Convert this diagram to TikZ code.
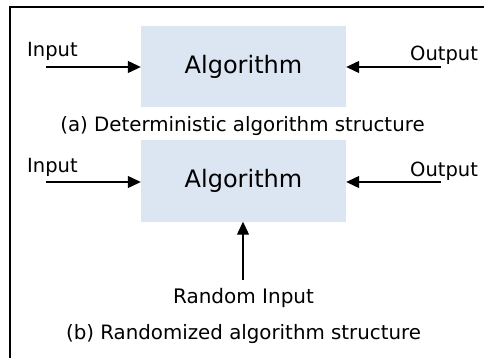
\documentclass[tikz,border=0pt]{standalone}
\usepackage{fontspec}
\setmainfont{DejaVu Sans}
\usetikzlibrary{arrows.meta}
\definecolor{boxblue}{RGB}{220,230,242}
\tikzset{
  x=1pt,y=-1pt,
  algbox/.style={fill=boxblue,minimum width=205pt,minimum height=81pt,inner sep=0pt,font=\fontsize{24}{30}\selectfont},
  lbl/.style={inner sep=0pt,font=\fontsize{19.5}{22}\selectfont},
  captxt/.style={inner sep=0pt,font=\fontsize{19.8}{24}\selectfont},
  arr/.style={-{Triangle[length=13pt,width=12pt]},line width=1.2pt}
}
\begin{document}
\begin{tikzpicture}
\useasboundingbox (0,0) rectangle (484,358);
\begin{scope}
\clip (0,0) rectangle (484,358);
\draw[line width=2.2pt] (10,7) rectangle (500,380);
\end{scope}
\node[algbox] (alg1) at (243.5,66.5) {Algorithm};
\node[algbox] (alg2) at (243.5,181) {Algorithm};
\node[lbl,anchor=base west] (in1) at (27,57) {Input};
\node[lbl,anchor=base west] (out1) at (410,61) {Output};
\node[lbl,anchor=base west] (in2) at (27,172) {Input};
\node[lbl,anchor=base west] (out2) at (410,176) {Output};
\coordinate (in1e) at (46,67);
\coordinate (out1e) at (441,67);
\coordinate (in2e) at (46,182);
\coordinate (out2e) at (441,182);
\coordinate (rnde) at (243,280);
\draw[arr] (in1e) -- (in1e -| alg1.west);
\draw[arr] (out1e) -- (out1e -| alg1.east);
\draw[arr] (in2e) -- (in2e -| alg2.west);
\draw[arr] (out2e) -- (out2e -| alg2.east);
\draw[arr] (rnde) -- (rnde |- alg2.south);
\node[captxt,anchor=base] (capa) at (242.5,132) {(a) Deterministic algorithm structure};
\node[lbl,font=\fontsize{20}{24}\selectfont,anchor=base] (rnd) at (243.5,303) {Random Input};
\node[captxt,anchor=base] (capb) at (243.5,339) {(b) Randomized algorithm structure};
\end{tikzpicture}
\end{document}
